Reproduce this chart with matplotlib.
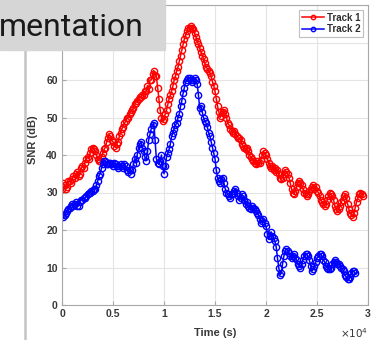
import numpy as np
import matplotlib.pyplot as plt
from matplotlib.ticker import FuncFormatter, MultipleLocator

# SNR samples, one every 125 s
snr_track1 = [
    31, 32.5, 32, 31, 31.5, 33, 33, 32.5,
    33.5, 34.5, 34, 35, 35.5, 34.5, 35, 36.5,
    37, 36.5, 38, 39, 39.5, 39, 40.5, 41.5,
    42, 41.5, 41, 40, 39, 38.5, 38.5, 39.5,
    40.5, 41.5, 42, 43.5, 44.5, 45.5, 45, 44,
    43.5, 42.5, 42, 43, 43.5, 45, 46, 47,
    47.5, 48.5, 49, 50, 50, 51, 51.5, 52,
    52.5, 53.5, 54, 54.5, 55, 55.5, 55.5, 56,
    56, 57, 57, 58.5, 57.5, 60, 60, 61.5,
    62.5, 61, 61, 58, 55, 52, 50, 49,
    49.5, 51, 52, 53.5, 55, 56, 57, 58.5,
    60, 61, 62.5, 63.5, 65, 66.5, 68, 69.5,
    71, 72, 73, 74, 74, 74.5, 74, 73.5,
    72.5, 71.5, 70.5, 69.5, 68.5, 67.5, 66.5, 65.5,
    64.5, 63.5, 63, 62.5, 62, 61, 59.5, 58.5,
    57, 55, 53, 51.5, 50, 50.5, 51.5, 52,
    51, 50, 48.5, 48, 47, 46.5, 46, 46.5,
    45.5, 45, 44.5, 44.5, 44, 43, 42.5, 42,
    41.5, 42, 41, 40, 39.5, 39, 38.5, 38,
    37.5, 38.5, 38, 38, 38.7, 40, 41, 40.5,
    40, 39, 38, 37, 36.5, 37, 36, 36.5,
    35.5, 36, 35, 34, 33.5, 34, 35, 36,
    35.5, 35, 34, 32.5, 31, 30, 29.5, 30.5,
    31.5, 32.5, 33, 32.5, 32, 31, 30, 29.5,
    29, 29.5, 30.5, 31, 31.5, 32, 31, 31.5,
    30.5, 30, 29, 28, 27.5, 27, 26.5, 27,
    28, 29, 30, 29.5, 29, 28, 26.5, 25.5,
    25, 25.5, 26.5, 27.5, 28, 29, 29.5, 28.5,
    27, 25.5, 24.5, 24, 23.5, 24.5, 26, 27.5,
    28.5, 29.5, 30, 29.5, 29,
]

snr_track2 = [
    24, 23.5, 24, 24.5, 25, 25.5, 26, 26.5,
    27, 26.5, 27, 27.5, 26.5, 26.5, 27.5, 28,
    28, 28.5, 28.5, 29, 29.5, 30, 30, 30.5,
    30.5, 31, 31, 32, 33, 34.5, 35, 36.5,
    37.5, 38.5, 38.5, 37.5, 37.5, 38, 38, 37.5,
    37, 38, 37.5, 37, 36.5, 37, 37.5, 37,
    36.5, 37.5, 37, 36, 35.5, 36, 35, 36,
    37.5, 39, 38, 40, 42, 43, 43.5, 42,
    41, 39.5, 38.5, 41, 44, 45.5, 47, 48,
    48.5, 44, 39, 38, 37.5, 38.5, 40, 37,
    35, 37, 39.5, 40.5, 41.5, 43, 45, 46,
    47, 48, 48.5, 50, 51, 53, 54.5, 56.5,
    58, 59.5, 60, 60.5, 60.5, 60, 59.5, 60,
    60.5, 60, 59, 56, 52.5, 53, 51.5, 50,
    49, 48.5, 47.5, 46, 45, 43.5, 42, 40.5,
    39, 36, 34, 33, 32.5, 33.5, 34, 32.5,
    31, 30, 29.5, 29, 28.5, 29.5, 30, 30.5,
    31, 30, 29, 28, 28.5, 29.5, 29, 28,
    27, 27.5, 26.5, 26, 25.5, 26.5, 26, 25.5,
    25, 24.5, 24, 23, 22, 22.5, 23, 22,
    21, 19, 17.5, 18.5, 19.5, 18.5, 18, 17,
    15.5, 12.5, 10, 8, 8.5, 11, 13, 14.5,
    15, 14.5, 14, 13, 12.5, 13, 13.5, 12.5,
    12, 11, 10.5, 10, 11, 12, 13, 13.5,
    13.5, 13, 12, 10.5, 9, 9.5, 10.5, 11.5,
    12.5, 13, 13.5, 13.5, 13, 12, 11.5, 10.5,
    10, 9.5, 9.5, 10, 11, 11.5, 12, 11.5,
    11, 11, 10.5, 10, 9.5, 9, 8, 7.5,
    7, 7, 7.5, 8.5, 9, 9, 8.5,
]

dt = 125
t_track1 = np.arange(len(snr_track1)) * dt
t_track2 = np.arange(len(snr_track2)) * dt

plt.rcParams['font.family'] = ['Liberation Sans', 'DejaVu Sans']

fig = plt.figure(figsize=(3.74, 3.40), dpi=100)
ax = fig.add_axes([62 / 374, 1 - 305 / 340, 306 / 374, 300 / 340])

ax.plot(t_track1, snr_track1, '-o', color='#ff0000', lw=1.1, ms=4.5,
        mfc='none', mew=1.0, label='Track 1')
ax.plot(t_track2, snr_track2, '-o', color='#0000ff', lw=1.1, ms=4.5,
        mfc='none', mew=1.0, label='Track 2')

ax.set_xlim(0, 30000)
ax.set_ylim(0, 80)
ax.xaxis.set_major_locator(MultipleLocator(5000))
ax.yaxis.set_major_locator(MultipleLocator(10))
ax.xaxis.set_major_formatter(FuncFormatter(lambda v, p: f'{v / 1e4:g}'))
# labels above 60 sit under the title banner
ax.yaxis.set_major_formatter(FuncFormatter(lambda v, p: f'{v:g}' if v <= 60 else ''))
ax.grid(True, color='#e4e4e4', lw=0.8)
ax.set_axisbelow(True)

for s in ax.spines.values():
    s.set_color('#a8a8a8')
    s.set_linewidth(0.8)
ax.tick_params(direction='in', length=3, color='#a8a8a8', labelsize=7.5,
               labelcolor='#383838', pad=3)
for lab in ax.get_xticklabels() + ax.get_yticklabels():
    lab.set_fontweight('bold')

ax.set_xlabel('Time (s)', fontsize=8, color='#383838', fontweight='bold')
ax.xaxis.set_label_coords(0.5, -0.075)
ax.set_ylabel('SNR (dB)', fontsize=8, color='#383838', fontweight='bold')
ax.yaxis.set_label_coords(-0.08, 0.55)
ax.text(1.0, -0.095, r'$\times10^{4}$', transform=ax.transAxes,
        ha='right', va='center', fontsize=7.5, color='#383838')

leg = ax.legend(loc='upper right', fontsize=7, frameon=True, fancybox=False,
                borderpad=0.3, handlelength=2.2, handletextpad=0.3,
                labelspacing=0.15, borderaxespad=0.5, markerscale=0.7)
leg.get_frame().set_edgecolor('#b0b0b0')
leg.get_frame().set_linewidth(0.8)
for txt in leg.get_texts():
    txt.set_fontweight('bold')
    txt.set_color('#303030')

# slide title banner and left border
fig.patches.append(plt.Rectangle((0, 1 - 50 / 340), 165 / 374, 50 / 340,
                                 transform=fig.transFigure, color='#d6d6d6',
                                 zorder=10))
fig.text(-0.003, 1 - 36 / 340, 'mentation', fontsize=23, family='Roboto',
         color='#1a1a1a', ha='left', va='baseline', zorder=11)
fig.add_artist(plt.Line2D([25 / 374, 25 / 374], [0, 1 - 50 / 340],
                          transform=fig.transFigure, color='#c4c4c4', lw=1.8))

fig.savefig('out.png', dpi=100)
